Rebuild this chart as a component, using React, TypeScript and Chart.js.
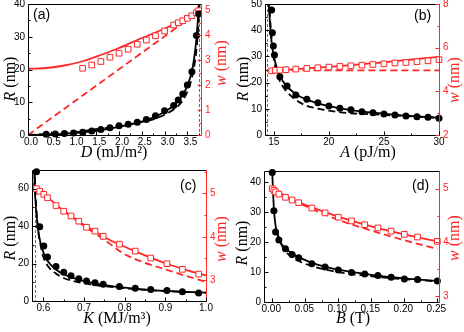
import React, { useEffect, useRef } from 'react';
import { Chart, registerables } from 'chart.js';

Chart.register(...registerables);

const RED = '#ff2626';
const BLUE = '#3f6df2';
const BLACK = '#000000';
const SANS = '"Liberation Sans", Arial, sans-serif';
const SERIF = '"Liberation Serif", "Times New Roman", serif';

// ---------------- Panel (a): R, w versus D ----------------
const aDotD = [0.4, 0.6, 0.8, 1.0, 1.2, 1.4, 1.6, 1.8, 2.0, 2.2, 2.4, 2.6, 2.8, 3.0, 3.2, 3.3, 3.4, 3.5, 3.6, 3.7, 3.75];
const aDotR = [0.2, 0.3, 0.45, 0.6, 0.85, 1.2, 1.7, 2.2, 2.8, 3.3, 3.9, 4.7, 5.9, 7.4, 9.0, 10.7, 12.5, 15.3, 19.3, 30.4, 37.0];
const aSqD = [1.2, 1.4, 1.6, 1.8, 2.0, 2.2, 2.4, 2.6, 2.8, 3.0, 3.2, 3.3, 3.4, 3.5, 3.6, 3.7, 3.75];
const aSqW = [2.67, 2.8, 2.94, 3.11, 3.27, 3.43, 3.63, 3.8, 3.97, 4.16, 4.4, 4.49, 4.57, 4.67, 4.77, 4.89, 4.97];
const aRSolidD = [0, 0.5, 1.0, 1.5, 2.0, 2.5, 2.8, 3.0, 3.2, 3.4, 3.5, 3.6, 3.65, 3.7, 3.73, 3.755];
const aRSolid = [0, 0.15, 0.55, 1.3, 2.5, 4.1, 5.6, 7.1, 9.0, 12.3, 15.0, 19.5, 23.5, 29.5, 35, 41];
const aRDashD = [0, 0.5, 1.0, 1.5, 2.0, 2.5, 2.8, 3.0, 3.2, 3.3, 3.4, 3.5, 3.6, 3.7, 3.74, 3.77];
const aRDash = [0, 0.35, 0.85, 1.8, 2.7, 4.0, 5.0, 6.2, 7.8, 8.9, 10.6, 13.2, 17.5, 26, 33, 41];
const aWSolidD = [0, 0.4, 0.8, 1.2, 1.6, 2.0, 2.4, 2.8, 3.2, 3.5, 3.7, 3.8];
const aWSolid = [2.65, 2.68, 2.78, 2.95, 3.2, 3.48, 3.8, 4.1, 4.42, 4.68, 4.9, 5.05];
const aWDashD = [0, 3.8];
const aWDash = [0, 5.0];
const aCrit = 3.76;
const aXTicks = [0, 0.5, 1.0, 1.5, 2.0, 2.5, 3.0, 3.5];
const aYTicks = [0, 10, 20, 30, 40];
const aY2Ticks = [0, 1, 2, 3, 4, 5];

// ---------------- Panel (b): R, w versus A ----------------
const bDotA = [14.8, 14.87, 14.96, 15.06, 15.55, 16.2, 17, 18, 19, 20, 21, 22, 23, 24, 25, 26, 27, 28, 29, 30];
const bDotR = [47.7, 39, 34, 30.5, 22.2, 18.7, 15.3, 13.6, 12.3, 11.1, 10.2, 9.6, 8.9, 8.5, 8.0, 7.6, 7.25, 7.0, 6.75, 6.4];
const bSqA = [14.8, 15.15, 15.55, 16.1, 17, 18, 19, 20, 21, 22, 23, 24, 25, 26, 27, 28, 29, 30];
const bSqW = [4.94, 4.96, 4.97, 4.99, 5.02, 5.05, 5.08, 5.11, 5.14, 5.17, 5.2, 5.23, 5.26, 5.3, 5.32, 5.36, 5.4, 5.45];
const bRSolidA = [14.52, 14.6, 14.7, 14.8, 15, 15.25, 15.5, 16, 17, 18, 19, 20, 22, 24, 26, 28, 30];
const bRSolid = [52, 46, 40, 35.5, 30, 26, 23, 19.5, 15.6, 13.5, 12.1, 11, 9.5, 8.5, 7.7, 7.1, 6.6];
const bRDashA = [14.55, 14.65, 14.8, 15, 15.25, 15.5, 16, 17, 18, 19, 20, 22, 24, 26, 28, 30];
const bRDash = [52, 45, 37, 29, 24, 21, 17.4, 13.4, 11.1, 10.1, 9.3, 8.3, 7.9, 7.4, 7.0, 6.5];
const bWSolidA = [14.6, 16, 18, 20, 22, 24, 26, 28, 30];
const bWSolid = [4.93, 4.98, 5.05, 5.12, 5.2, 5.29, 5.38, 5.48, 5.58];
const bWDashA = [14.6, 30];
const bWDash = [4.96, 4.96];
const bCrit = 14.35;
const bXTicks = [15, 20, 25, 30];
const bYTicks = [0, 10, 20, 30, 40, 50];
const bY2Ticks = [2, 4, 6, 8];

// ---------------- Panel (c): R, w versus K ----------------
const cK = [0.583, 0.591, 0.601, 0.61, 0.631, 0.65, 0.668, 0.687, 0.706, 0.727, 0.747, 0.787, 0.826, 0.864, 0.904, 0.942, 0.982];
const cDotR = [69, 39.7, 29.4, 23.5, 18.5, 15.3, 13.5, 11.9, 10.7, 9.8, 8.9, 7.7, 6.8, 6.2, 5.6, 4.9, 4.3];
const cSqW = [5.11, 5.05, 4.98, 4.9, 4.72, 4.59, 4.48, 4.36, 4.22, 4.13, 4.01, 3.83, 3.67, 3.51, 3.38, 3.25, 3.14];
const cRSolidK = [0.577, 0.58, 0.585, 0.59, 0.6, 0.61, 0.63, 0.65, 0.7, 0.75, 0.8, 0.85, 0.9, 0.95, 1.0];
const cRSolid = [72, 55, 42, 34, 26, 21.5, 17, 14.3, 10.6, 8.5, 7.1, 6.1, 5.4, 4.9, 4.5];
const cRDashK = [0.578, 0.582, 0.587, 0.593, 0.6, 0.61, 0.63, 0.65, 0.7, 0.75, 0.8, 0.85, 0.9, 0.95, 1.0];
const cRDash = [72, 52, 38, 30, 23.5, 19, 14.8, 12.3, 9.4, 7.9, 6.8, 6.0, 5.3, 4.8, 4.4];
const cWSolidK = [0.565, 0.6, 0.65, 0.7, 0.75, 0.8, 0.85, 0.9, 0.95, 1.0];
const cWSolid = [5.28, 5.0, 4.6, 4.28, 3.99, 3.77, 3.57, 3.39, 3.24, 3.11];
const cWDashK = [0.565, 0.6, 0.65, 0.7, 0.75, 0.8, 0.85, 0.9, 0.95, 1.0];
const cWDash = [5.3, 5.0, 4.6, 4.25, 3.93, 3.6, 3.4, 3.25, 3.1, 2.96];
const cCrit = 0.5785;
const cXTicks = [0.6, 0.7, 0.8, 0.9, 1.0];
const cYTicks = [0, 20, 40, 60];
const cY2Ticks = [3, 4, 5];

// ---------------- Panel (d): R, w versus B ----------------
const dB = [0, 0.0025, 0.005, 0.01, 0.02, 0.03, 0.04, 0.06, 0.08, 0.1, 0.12, 0.14, 0.16, 0.18, 0.2, 0.22, 0.25];
const dDotR = [43.3, 30.5, 23.4, 20.7, 17.8, 15.9, 14.8, 12.8, 11.7, 10.7, 9.9, 9.4, 8.9, 8.3, 7.7, 7.5, 7.0];
const dSqW = [5.0, 4.97, 4.94, 4.9, 4.84, 4.79, 4.74, 4.64, 4.55, 4.47, 4.4, 4.33, 4.27, 4.21, 4.15, 4.1, 4.02];
const dRSolidB = [-0.0005, 0.001, 0.0025, 0.005, 0.01, 0.02, 0.03, 0.04, 0.06, 0.08, 0.1, 0.15, 0.2, 0.25];
const dRSolid = [46, 38, 31, 25.5, 21, 18, 16.2, 15, 13.1, 11.8, 10.8, 9.1, 7.9, 7.0];
const dRDashB = [0.008, 0.01, 0.015, 0.02, 0.03, 0.04, 0.06, 0.08, 0.1, 0.15, 0.2, 0.25];
const dRDash = [23, 21.5, 18.7, 17, 14.9, 13.7, 12.0, 10.9, 10.0, 8.6, 7.6, 6.9];
const dWSolidB = [0, 0.02, 0.05, 0.1, 0.15, 0.2, 0.25];
const dWSolid = [5.0, 4.85, 4.7, 4.48, 4.3, 4.15, 4.02];
const dWDashB = [0, 0.05, 0.1, 0.15, 0.2, 0.25];
const dWDash = [5.0, 4.68, 4.42, 4.22, 4.04, 3.88];
const dXTicks = [0, 0.05, 0.1, 0.15, 0.2, 0.25];
const dYTicks = [0, 10, 20, 30, 40];
const dY2Ticks = [3, 4, 5];

// ---------------- panel assembly ----------------
const W = 232;
const H = 166;

const PANELS: any[] = [
  {
    id: 'a', label: '(a)', pageX: 0, pageY: 0,
    area: { l: 28, r: 201, t: 4, b: 135 },
    x: { min: 0, max: 3.8, ticks: aXTicks, dec: 1, off: 3 },
    y: { min: 0, max: 40, ticks: aYTicks, dec: 0 },
    y2: { min: 0, max: 5.24, ticks: aY2Ticks, dec: 0 },
    xTitle: ['D', ' (mJ/m²)'], yTitle: ['R', ' (nm)'], y2Title: ['w', ' (nm)'],
    xt: [114, 157], yt: [14.5, 79], y2t: [226, 63], lab: [33, 18.5],
    crit: aCrit,
    dots: [aDotD, aDotR], sq: [aSqD, aSqW],
    lines: [[aRSolidD, aRSolid, false, 'y'], [aRDashD, aRDash, true, 'y'], [aWSolidD, aWSolid, false, 'y2'], [aWDashD, aWDash, true, 'y2']],
  },
  {
    id: 'b', label: '(b)', pageX: 232, pageY: 0,
    area: { l: 33, r: 207, t: 4, b: 135 },
    x: { min: 14.2, max: 30, ticks: bXTicks, dec: 0, off: 0 },
    y: { min: 0, max: 50, ticks: bYTicks, dec: 0 },
    y2: { min: 2, max: 8, ticks: bY2Ticks, dec: 0 },
    xTitle: ['A', ' (pJ/m)'], yTitle: ['R', ' (nm)'], y2Title: ['w', ' (nm)'],
    xt: [136, 157], yt: [16, 79], y2t: [227, 80], lab: [182, 19.5],
    crit: bCrit,
    dots: [bDotA, bDotR], sq: [bSqA, bSqW],
    lines: [[bRSolidA, bRSolid, false, 'y'], [bRDashA, bRDash, true, 'y'], [bWSolidA, bWSolid, false, 'y2'], [bWDashA, bWDash, true, 'y2']],
  },
  {
    id: 'c', label: '(c)', pageX: 0, pageY: 166,
    area: { l: 32, r: 206, t: 4, b: 135 },
    x: { min: 0.572, max: 1.0, ticks: cXTicks, dec: 1, off: 0 },
    y: { min: 0, max: 70, ticks: cYTicks, dec: 0 },
    y2: { min: 2.52, max: 5.54, ticks: cY2Ticks, dec: 0 },
    xTitle: ['K', ' (MJ/m³)'], yTitle: ['R', ' (nm)'], y2Title: ['w', ' (nm)'],
    xt: [117, 157], yt: [14.5, 72], y2t: [226, 73], lab: [180, 23.5],
    crit: cCrit,
    dots: [cK, cDotR], sq: [cK, cSqW],
    lines: [[cRSolidK, cRSolid, false, 'y'], [cRDashK, cRDash, true, 'y'], [cWSolidK, cWSolid, false, 'y2'], [cWDashK, cWDash, true, 'y2']],
  },
  {
    id: 'd', label: '(d)', pageX: 232, pageY: 166,
    area: { l: 32, r: 207, t: 5, b: 136 },
    x: { min: -0.0125, max: 0.2525, ticks: dXTicks, dec: 2, off: -1 },
    y: { min: 0, max: 43.8, ticks: dYTicks, dec: 0 },
    y2: { min: 2.89, max: 5.33, ticks: dY2Ticks, dec: 0 },
    xTitle: ['B', ' (T)'], yTitle: ['R', ' (nm)'], y2Title: ['w', ' (nm)'],
    xt: [121, 157], yt: [14.5, 77], y2t: [227, 72], lab: [180, 23.5],
    crit: null,
    dots: [dB, dDotR], sq: [dB, dSqW],
    lines: [[dRSolidB, dRSolid, false, 'y'], [dRDashB, dRDash, true, 'y'], [dWSolidB, dWSolid, false, 'y2'], [dWDashB, dWDash, true, 'y2']],
  },
];

const pts = (xs: number[], ys: number[]) => xs.map((x, i) => ({ x, y: ys[i] }));

function minorTicks(ax: any) {
  const t = ax.ticks;
  const half = (t[1] - t[0]) / 2;
  const out: number[] = [];
  for (let k = -40; k <= 80; k++) {
    if (k % 2 === 0) continue;
    const v = t[0] + k * half;
    if (v > ax.min + 1e-9 && v < ax.max - 1e-9) out.push(v);
  }
  return out;
}

function drawTitle(ctx: CanvasRenderingContext2D, parts: string[], cx: number, cy: number, rot: boolean, color: string) {
  ctx.save();
  ctx.translate(cx, cy);
  if (rot) ctx.rotate(-Math.PI / 2);
  ctx.fillStyle = color;
  ctx.textBaseline = 'alphabetic';
  ctx.textAlign = 'left';
  const fI = `italic 16px ${SERIF}`;
  const fN = `16px ${SERIF}`;
  ctx.font = fI;
  const w1 = ctx.measureText(parts[0]).width;
  ctx.font = fN;
  const w2 = ctx.measureText(parts[1]).width;
  const x0 = -(w1 + w2) / 2;
  ctx.font = fI;
  ctx.fillText(parts[0], x0, 0);
  ctx.font = fN;
  ctx.fillText(parts[1], x0 + w1, 0);
  ctx.restore();
}

function makeFrame(p: any) {
  return {
    id: 'frame' + p.id,
    beforeDatasetsDraw(chart: any) {
      if (p.crit == null) return;
      const { ctx, chartArea: a } = chart;
      const x = Math.round(chart.scales.x.getPixelForValue(p.crit)) + 0.5;
      ctx.save();
      ctx.strokeStyle = BLUE;
      ctx.lineWidth = 1;
      ctx.setLineDash([3, 2]);
      ctx.beginPath();
      ctx.moveTo(x, a.top);
      ctx.lineTo(x, a.bottom);
      ctx.stroke();
      ctx.restore();
    },
    afterDraw(chart: any) {
      const { ctx, chartArea: a, scales } = chart;
      ctx.save();
      ctx.setLineDash([]);
      ctx.lineWidth = 1;
      const L = a.left + 0.5, R = a.right + 0.5, T = a.top + 0.5, B = a.bottom + 0.5;
      ctx.strokeStyle = BLACK;
      ctx.beginPath();
      ctx.moveTo(L, B); ctx.lineTo(L, T); ctx.lineTo(R, T);
      ctx.moveTo(L, B); ctx.lineTo(R, B);
      ctx.stroke();
      ctx.strokeStyle = RED;
      ctx.beginPath();
      ctx.moveTo(R, a.top); ctx.lineTo(R, a.bottom + 1);
      ctx.stroke();
      const xs = scales.x, ys = scales.y, y2 = scales.y2;
      ctx.strokeStyle = BLACK;
      ctx.beginPath();
      p.x.ticks.forEach((v: number) => { const px = Math.round(xs.getPixelForValue(v)) + 0.5; ctx.moveTo(px, B); ctx.lineTo(px, B - 4); });
      minorTicks(p.x).forEach((v: number) => { const px = Math.round(xs.getPixelForValue(v)) + 0.5; ctx.moveTo(px, B); ctx.lineTo(px, B - 2); });
      p.y.ticks.forEach((v: number) => { const py = Math.round(ys.getPixelForValue(v)) + 0.5; ctx.moveTo(L, py); ctx.lineTo(L + 4, py); });
      minorTicks(p.y).forEach((v: number) => { const py = Math.round(ys.getPixelForValue(v)) + 0.5; ctx.moveTo(L, py); ctx.lineTo(L + 2, py); });
      ctx.stroke();
      ctx.strokeStyle = RED;
      ctx.beginPath();
      p.y2.ticks.forEach((v: number) => { const py = Math.round(y2.getPixelForValue(v)) + 0.5; ctx.moveTo(R, py); ctx.lineTo(R - 4, py); });
      minorTicks(p.y2).forEach((v: number) => { const py = Math.round(y2.getPixelForValue(v)) + 0.5; ctx.moveTo(R, py); ctx.lineTo(R - 2, py); });
      ctx.stroke();
      drawTitle(ctx, p.xTitle, p.xt[0], p.xt[1], false, BLACK);
      drawTitle(ctx, p.yTitle, p.yt[0], p.yt[1], true, BLACK);
      drawTitle(ctx, p.y2Title, p.y2t[0], p.y2t[1], true, RED);
      ctx.fillStyle = BLACK;
      ctx.font = `14px ${SANS}`;
      ctx.textAlign = 'left';
      ctx.textBaseline = 'alphabetic';
      ctx.fillText(p.label, p.lab[0], p.lab[1]);
      ctx.restore();
    },
  };
}

function scaleCfg(ax: any, position: string, color: string, pad: number, fit: (s: any) => void) {
  return {
    type: 'linear',
    position,
    min: ax.min,
    max: ax.max,
    grid: { display: false, drawTicks: false },
    border: { display: false },
    ticks: {
      color,
      font: { family: SANS, size: 10 },
      padding: pad,
      labelOffset: ax.off || 0,
      autoSkip: false,
      maxRotation: 0,
      minRotation: 0,
      callback: (v: any) => Number(v).toFixed(ax.dec),
    },
    afterBuildTicks: (s: any) => { s.ticks = ax.ticks.map((v: number) => ({ value: v })); },
    afterFit: (s: any) => {
      fit(s);
      s.paddingTop = 0; s.paddingBottom = 0; s.paddingLeft = 0; s.paddingRight = 0;
    },
  };
}

function buildConfig(p: any) {
  const lineSets = p.lines.map((l: any) => ({
    data: pts(l[0], l[1]),
    showLine: true,
    borderColor: l[3] === 'y' ? BLACK : RED,
    backgroundColor: l[3] === 'y' ? BLACK : RED,
    borderWidth: 1.8,
    borderDash: l[2] ? [7, 4] : [],
    pointRadius: 0,
    pointHoverRadius: 0,
    yAxisID: l[3],
    cubicInterpolationMode: 'monotone',
    fill: false,
  }));
  const dotSet = {
    data: pts(p.dots[0], p.dots[1]),
    showLine: false,
    pointStyle: 'circle',
    pointRadius: 3.5,
    pointBackgroundColor: BLACK,
    pointBorderColor: BLACK,
    pointBorderWidth: 0,
    yAxisID: 'y',
    clip: false,
  };
  const sqSet = {
    data: pts(p.sq[0], p.sq[1]),
    showLine: false,
    pointStyle: 'rect',
    pointRadius: 4,
    pointBackgroundColor: '#ffffff',
    pointBorderColor: RED,
    pointBorderWidth: 1,
    yAxisID: 'y2',
    clip: false,
  };
  return {
    type: 'scatter',
    data: { datasets: [dotSet, sqSet, ...lineSets] },
    options: {
      animation: false,
      responsive: false,
      maintainAspectRatio: false,
      devicePixelRatio: 1,
      events: [],
      layout: { padding: { top: p.area.t, left: 0, right: 0, bottom: 0 }, autoPadding: false },
      plugins: { legend: { display: false }, tooltip: { enabled: false }, title: { display: false } },
      scales: {
        x: scaleCfg(p.x, 'bottom', BLACK, 1, (s: any) => { s.height = H - p.area.b; }),
        y: scaleCfg(p.y, 'left', BLACK, 3, (s: any) => { s.width = p.area.l; }),
        y2: scaleCfg(p.y2, 'right', RED, 4, (s: any) => { s.width = W - p.area.r; }),
      },
    },
    plugins: [makeFrame(p)],
  };
}

export default function App() {
  const refs = useRef<(HTMLCanvasElement | null)[]>([]);
  useEffect(() => {
    const charts = PANELS.map((p, i) => new Chart(refs.current[i] as HTMLCanvasElement, buildConfig(p) as any));
    return () => charts.forEach((c) => c.destroy());
  }, []);
  return (
    <div style={{ position: 'fixed', left: 0, top: 0, width: 464, height: 332, background: '#ffffff' }}>
      {PANELS.map((p, i) => (
        <canvas
          key={p.id}
          ref={(el) => { refs.current[i] = el; }}
          width={W}
          height={H}
          style={{ position: 'absolute', left: p.pageX, top: p.pageY, width: W, height: H }}
        />
      ))}
    </div>
  );
}
